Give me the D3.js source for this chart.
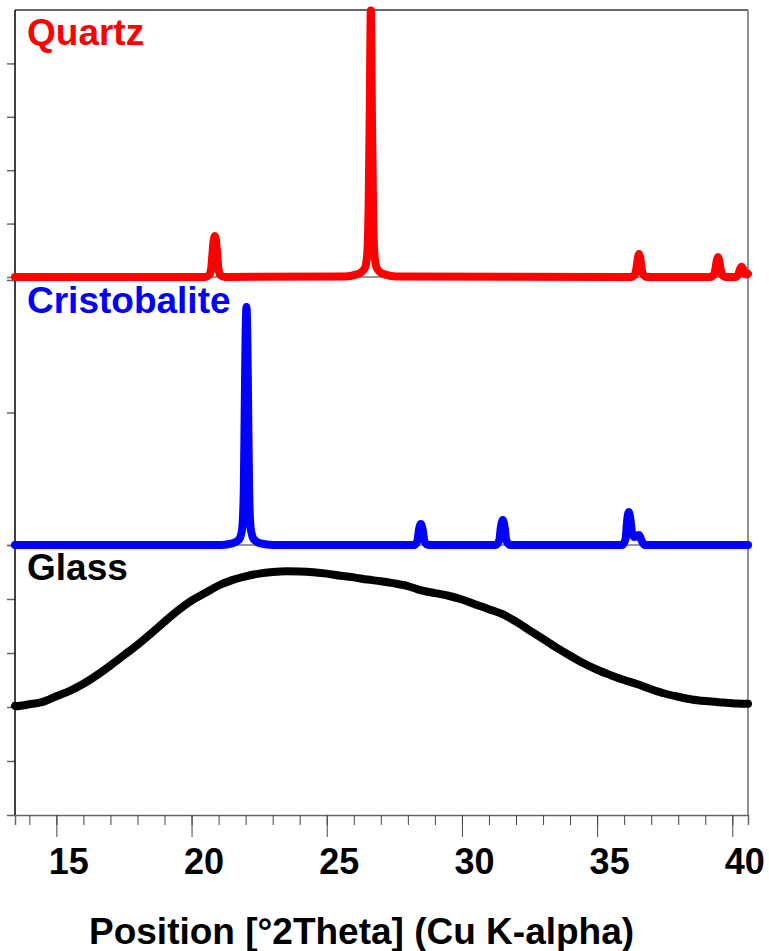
<!DOCTYPE html>
<html>
<head>
<meta charset="utf-8">
<script src="https://cdn.jsdelivr.net/npm/d3@7"></script>
<style>
  body { margin: 0; background: #fff; }
  text { font-family: "Liberation Sans", Arial, sans-serif; font-weight: bold; }
</style>
</head>
<body>
<div id="chart"></div>
<script>
// Step 1: data (2Theta in degrees, counts in arbitrary units)
var quartzTheta = [13.47, 20.50, 20.66, 20.73, 20.78, 20.82, 20.86, 20.90, 20.94, 20.99, 21.06, 21.22,
    25.70, 26.05, 26.28, 26.42, 26.50, 26.55, 26.59, 26.61, 26.63, 26.65, 26.67, 26.71, 26.76, 26.84, 26.98, 27.20, 27.55,
    36.25, 36.40, 36.46, 36.51, 36.55, 36.59, 36.64, 36.70, 36.85,
    39.18, 39.32, 39.38, 39.43, 39.47, 39.51, 39.56, 39.62, 39.76,
    40.12, 40.22, 40.28, 40.34, 40.40, 40.46, 40.52, 40.58];
var quartzCounts = [0, 0, 40, 180, 480, 700, 770, 700, 480, 180, 40, 0,
    10, 40, 90, 180, 450, 1400, 3100, 4300, 4990, 4300, 3100, 1400, 450, 180, 90, 40, 10,
    0, 50, 190, 370, 430, 370, 190, 50, 0,
    0, 45, 170, 320, 375, 320, 170, 45, 0,
    0, 45, 140, 190, 150, 70, 45, 60];

var cristobaliteTheta = [13.47, 21.10, 21.50, 21.75, 21.87, 21.93, 21.97, 22.00, 22.03, 22.06, 22.09, 22.13, 22.19, 22.31, 22.55, 23.00,
    28.22, 28.35, 28.41, 28.48, 28.55, 28.61, 28.75,
    31.25, 31.38, 31.44, 31.51, 31.58, 31.64, 31.78,
    35.92, 36.05, 36.11, 36.17, 36.23, 36.29, 36.37, 36.48, 36.55, 36.63, 36.76,
    40.58];
var cristobaliteCounts = [0, 0, 12, 40, 120, 400, 1100, 1600, 1796, 1600, 1100, 400, 120, 40, 12, 0,
    0, 30, 115, 158, 115, 30, 0,
    0, 35, 135, 189, 135, 35, 0,
    0, 45, 185, 249, 195, 95, 60, 70, 75, 40, 0,
    0];

var glassTheta = [13.47, 13.5, 14.0, 14.5, 15.0, 15.5, 16.0, 16.5, 17.0, 17.5, 18.0, 18.5, 19.0, 19.5,
    20.0, 20.5, 21.0, 21.5, 22.0, 22.5, 23.0, 23.5, 24.0, 24.5, 25.0, 25.5, 26.0, 26.5, 27.0, 27.5,
    28.0, 28.5, 29.0, 29.5, 30.0, 30.5, 31.0, 31.5, 32.0, 32.5, 33.0, 33.5, 34.0, 34.5, 35.0, 35.5,
    36.0, 36.5, 37.0, 37.5, 38.0, 38.5, 39.0, 39.5, 40.0, 40.58];
var glassCounts = [20, 15, 50, 95, 200, 300, 430, 590, 770, 960, 1150, 1360, 1580, 1790,
    1970, 2110, 2250, 2350, 2420, 2470, 2500, 2515, 2510, 2495, 2470, 2430, 2400, 2360, 2330, 2290,
    2240, 2160, 2110, 2060, 1990, 1900, 1810, 1720, 1580, 1420, 1260, 1100, 950, 810, 690, 590,
    500, 420, 330, 250, 190, 140, 110, 90, 70, 60];

var panelNames = ["Quartz", "Cristobalite", "Glass"];
var panelColors = ["#ff0000", "#0000ff", "#000000"];
var majorTicks = [15, 20, 25, 30, 35, 40];
var minorTicks = d3.range(14, 41);

// Step 2: canvas and scales
var w = 769;
var h = 951;
var plotLeft = 15, plotRight = 748, plotTop = 10, plotBottom = 815;

var svg = d3.select("#chart")
    .append("svg")
    .attr("width", w)
    .attr("height", h);

var x = d3.scaleLinear().domain([13.47, 40.58]).range([plotLeft, plotRight]);

// one y scale per stacked panel
var yQuartz = d3.scaleLinear().domain([0, 5000]).range([277, plotTop]);
var yCristo = d3.scaleLinear().domain([0, 2000]).range([545, 280]);
var yGlass = d3.scaleLinear().domain([-2000, 3000]).range([plotBottom, 545]);

// Step 3: frame, separators and axes
svg.append("line").attr("x1", plotLeft).attr("x2", plotRight).attr("y1", plotTop).attr("y2", plotTop)
    .attr("stroke", "#333").attr("stroke-width", 1.3);
svg.append("line").attr("x1", plotRight).attr("x2", plotRight).attr("y1", plotTop).attr("y2", plotBottom)
    .attr("stroke", "#555").attr("stroke-width", 1.3);
[277, 545].forEach(function (yy) {
    svg.append("line").attr("x1", plotLeft).attr("x2", plotRight).attr("y1", yy).attr("y2", yy)
        .attr("stroke", "#333").attr("stroke-width", 1);
});

function leftAxis(scale, values) {
    var g = svg.append("g")
        .attr("transform", "translate(" + plotLeft + ",0)")
        .call(d3.axisLeft(scale).tickValues(values).tickSize(8).tickFormat(""));
    g.select(".domain").remove();
    g.selectAll(".tick line").attr("stroke", "#666").attr("stroke-width", 1.5);
}
leftAxis(yQuartz, [0, 1000, 2000, 3000, 4000]);
leftAxis(yCristo, [0, 1000, 2000]);
leftAxis(yGlass, [-2000, -1000, 0, 1000, 2000, 3000]);

svg.append("line").attr("x1", plotLeft).attr("x2", plotLeft).attr("y1", plotTop).attr("y2", plotBottom)
    .attr("stroke", "#000").attr("stroke-width", 1.5);

// bottom axis: minor ticks every degree, long ticks with labels every 5
var minorAxis = svg.append("g")
    .attr("transform", "translate(0," + plotBottom + ")")
    .call(d3.axisBottom(x).tickValues(minorTicks).tickSize(10).tickFormat(""));
minorAxis.select(".domain").attr("stroke", "#666").attr("stroke-width", 1.5);
minorAxis.selectAll(".tick line").attr("stroke", "#444");

var majorAxis = svg.append("g")
    .attr("transform", "translate(0," + plotBottom + ")")
    .call(d3.axisBottom(x).tickValues(majorTicks).tickSize(22).tickPadding(0));
majorAxis.select(".domain").remove();
majorAxis.selectAll(".tick line").attr("stroke", "#444");
majorAxis.selectAll(".tick text")
    .attr("fill", "#000")
    .attr("font-size", "36px")
    .attr("font-family", "'Liberation Sans', Arial, sans-serif")
    .attr("font-weight", "bold")
    .attr("dx", 12)
    .attr("y", 59)
    .attr("dy", 0);

svg.append("text")
    .attr("x", 89)
    .attr("y", 944)
    .attr("font-size", "37px")
    .attr("fill", "#000")
    .text("Position [°2Theta] (Cu K-alpha)");

// Step 4: patterns
var scales = [yQuartz, yCristo, yGlass];
var series = [
    d3.zip(quartzTheta, quartzCounts),
    d3.zip(cristobaliteTheta, cristobaliteCounts),
    d3.zip(glassTheta, glassCounts)
];

series.forEach(function (pts, i) {
    var line = d3.line()
        .x(function (d) { return x(d[0]); })
        .y(function (d) { return scales[i](d[1]); })
        .curve(d3.curveMonotoneX);
    svg.append("path")
        .datum(pts)
        .attr("fill", "none")
        .attr("stroke", panelColors[i])
        .attr("stroke-width", 8)
        .attr("stroke-linejoin", "round")
        .attr("stroke-linecap", "round")
        .attr("d", line);
});

// Step 5: panel names
var labelY = [45, 313, 580];
panelNames.forEach(function (name, i) {
    svg.append("text")
        .attr("x", 27)
        .attr("y", labelY[i])
        .attr("font-size", "37px")
        .attr("fill", panelColors[i])
        .text(name);
});
</script>
</body>
</html>
